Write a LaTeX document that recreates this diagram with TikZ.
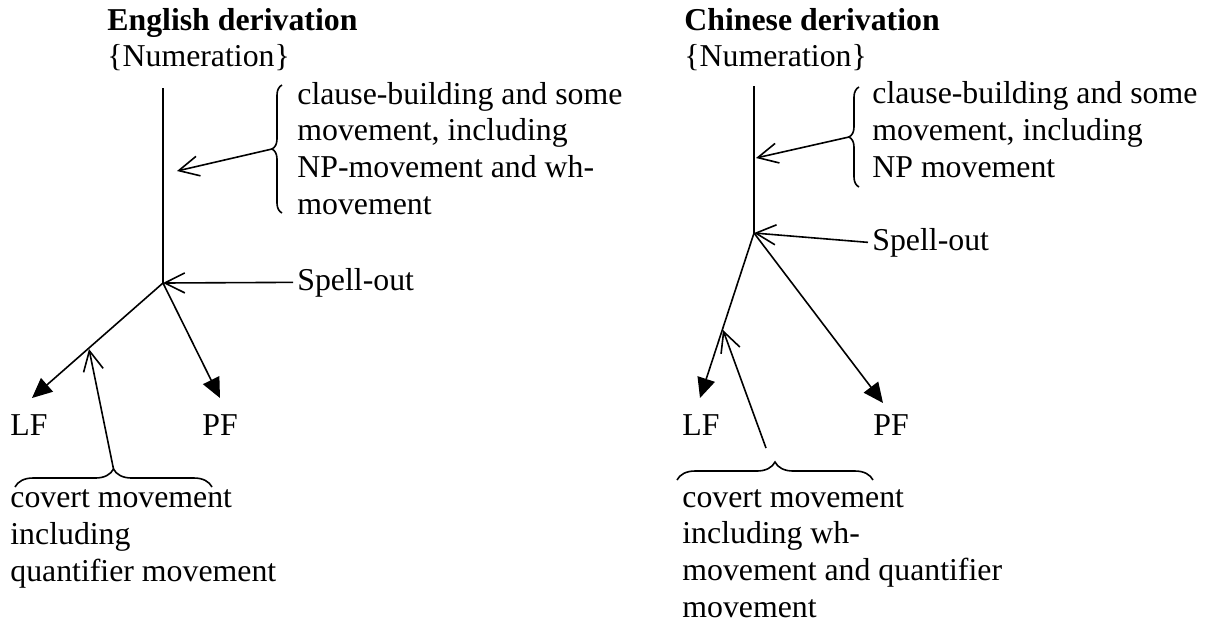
\documentclass[tikz,border=0pt]{standalone}
\usepackage{fontspec}
\setmainfont{Liberation Serif}
\usetikzlibrary{arrows.meta,positioning,decorations.pathreplacing}

\begin{document}
\begin{tikzpicture}[
    x=0.5pt, y=-0.5pt,
    lbl/.style={
      inner sep=0pt, anchor=base west, align=left,
      font=\fontsize{15.9}{18.3}\selectfont
    },
    ttl/.style={lbl, font=\fontsize{15.9}{18.3}\selectfont\bfseries},
    stem/.style={line width=0.8pt},
    solidarr/.style={stem, -{Triangle[length=10pt,width=9pt]}},
    openarr/.style={stem, -{Straight Barb[length=10pt,width=10pt]}},
    brc/.style={stem, decorate, decoration={brace, amplitude=#1}},
  ]
  \useasboundingbox (0,0) rectangle (1210,623);

  % English derivation (multi-line labels sit on their last baseline)
  \node[ttl] (etitle)  at (107,30)  {English derivation};
  \node[lbl] (enum)    at (107,66)  {\{Numeration\}};
  \node[lbl] (eclause) at (297,214) {clause-building and some\\movement, including\\NP-movement and wh-\\movement};
  \node[lbl] (espell)  at (297,290) {Spell-out};
  \node[lbl] (elftxt)  at (10,435)  {LF};
  \node[lbl] (epftxt)  at (202,435) {PF};
  \node[lbl] (ecovert) at (10,581)  {covert movement\\including\\quantifier movement};

  \coordinate (etop)   at (163,88);
  \coordinate (esplit) at (163,283);
  \coordinate (elf)    at (32,398);
  \coordinate (epf)    at (220,398);
  \coordinate (ecltip) at (177,171);
  \coordinate (ecvtip) at (89,349);

  % Chinese derivation
  \node[ttl] (ctitle)  at (684,30)  {Chinese derivation};
  \node[lbl] (cnum)    at (684,66)  {\{Numeration\}};
  \node[lbl] (cclause) at (872,177) {clause-building and some\\movement, including\\NP movement};
  \node[lbl] (cspell)  at (872,250) {Spell-out};
  \node[lbl] (clftxt)  at (682,435) {LF};
  \node[lbl] (cpftxt)  at (873,435) {PF};
  \node[lbl] (ccovert) at (682,617) {covert movement\\including wh-\\movement and quantifier\\movement};

  \coordinate (ctop)   at (754,86);
  \coordinate (csplit) at (754,233);
  \coordinate (clf)    at (700,398);
  \coordinate (cpf)    at (883,403);
  \coordinate (ccltip) at (756,158);
  \coordinate (ccvtip) at (723,330);
  \coordinate (ccvend) at (766,448);

  % Braces
  \draw[brc=5pt] (282,213) -- coordinate[pos=0.5, xshift=-5pt] (ebrace) (282,85);
  \draw[brc=9pt] (15,487) -- coordinate[pos=0.5, yshift=9pt] (ecvbrace) (212,487);
  \draw[brc=5pt] (859,187) -- coordinate[pos=0.5, xshift=-5pt] (cbrace) (859,87);
  \draw[brc=9pt] (677,480) -- (873,480);

  % Edges -- English
  \draw[stem]     (etop)   -- (esplit);
  \draw[solidarr] (esplit) -- (elf);
  \draw[solidarr] (esplit) -- (epf);
  \draw[openarr]  ([xshift=-2pt]espell.west) -- (esplit);
  \draw[openarr]  (ebrace)   -- (ecltip);
  \draw[openarr]  (ecvbrace) -- (ecvtip);

  % Edges -- Chinese
  \draw[stem]     (ctop)   -- (csplit);
  \draw[solidarr] (csplit) -- (clf);
  \draw[solidarr] (csplit) -- (cpf);
  \draw[openarr]  ([xshift=-2pt]cspell.west) -- (csplit);
  \draw[openarr]  (cbrace) -- (ccltip);
  \draw[openarr]  (ccvend) -- (ccvtip);

\end{tikzpicture}
\end{document}
